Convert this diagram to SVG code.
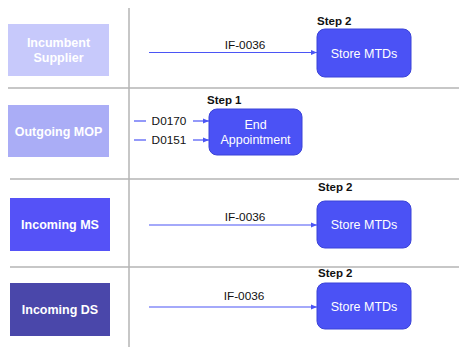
<svg xmlns="http://www.w3.org/2000/svg" width="459" height="347" viewBox="0 0 459 347">
<defs>
<marker id="ah" viewBox="0 0 10 10" refX="10" refY="5" markerWidth="6" markerHeight="6" orient="auto" markerUnits="userSpaceOnUse">
<path d="M0,1 L10,5 L0,9 z" fill="#4b55f5"/>
</marker>
<style>
.lane{fill:none;stroke:#b4b4b4;stroke-width:1.5}
.actor{stroke:none}
.atxt{font-family:"Liberation Sans",Arial,sans-serif;font-weight:bold;font-size:12.5px;fill:#ffffff;text-anchor:middle}
.proc{fill:#4b52f5;stroke:#3a42d8;stroke-width:1}
.ptxt{font-family:"Liberation Sans",Arial,sans-serif;font-size:12.5px;fill:#ffffff;text-anchor:middle}
.step{font-family:"Liberation Sans",Arial,sans-serif;font-weight:bold;font-size:11.5px;fill:#111111}
.lbl{font-family:"Liberation Sans",Arial,sans-serif;font-size:11.8px;fill:#111111;text-anchor:middle}
.edge{fill:none;stroke:#4b55f5;stroke-width:1.2}
</style>
</defs>
<rect width="459" height="347" fill="#ffffff"/>
<g id="lanes">
<line class="lane" x1="129" y1="8" x2="129" y2="347"/>
<line class="lane" x1="8" y1="88" x2="459" y2="88"/>
<line class="lane" x1="10" y1="179" x2="459" y2="179"/>
<line class="lane" x1="10" y1="267" x2="459" y2="267"/>
</g>
<g id="incumbent-supplier">
<rect class="actor" x="8" y="24" width="101" height="52" fill="#c7c9fb"/>
<text class="atxt" x="58.5" y="47">Incumbent</text>
<text class="atxt" x="58.5" y="62">Supplier</text>
</g>
<g id="outgoing-mop">
<rect class="actor" x="8" y="105" width="101" height="52" fill="#aaadf6"/>
<text class="atxt" x="58.5" y="136">Outgoing MOP</text>
</g>
<g id="incoming-ms">
<rect class="actor" x="10" y="198" width="100" height="53" fill="#5552f7"/>
<text class="atxt" x="60" y="229">Incoming MS</text>
</g>
<g id="incoming-ds">
<rect class="actor" x="10" y="283" width="100" height="53" fill="#4a47aa"/>
<text class="atxt" x="60" y="314">Incoming DS</text>
</g>
<g id="store-mtds-1">
<text class="step" x="317" y="25">Step 2</text>
<rect class="proc" x="317" y="29" width="94" height="48" rx="8"/>
<text class="ptxt" x="364" y="57.5">Store MTDs</text>
</g>
<g id="end-appointment">
<text class="step" x="207" y="104">Step 1</text>
<rect class="proc" x="209" y="109" width="93" height="46" rx="8"/>
<text class="ptxt" x="255.5" y="129">End</text>
<text class="ptxt" x="255.5" y="143.5">Appointment</text>
</g>
<g id="store-mtds-2">
<text class="step" x="318" y="191">Step 2</text>
<rect class="proc" x="317" y="201" width="94" height="47" rx="8"/>
<text class="ptxt" x="364" y="229">Store MTDs</text>
</g>
<g id="store-mtds-3">
<text class="step" x="318" y="277">Step 2</text>
<rect class="proc" x="317" y="283" width="94" height="46" rx="8"/>
<text class="ptxt" x="364" y="311">Store MTDs</text>
</g>
<g id="connectors">
<line class="edge" x1="149" y1="52.5" x2="317" y2="52.5" marker-end="url(#ah)"/>
<text class="lbl" x="245" y="49">IF-0036</text>
<line class="edge" x1="149" y1="225" x2="317" y2="225" marker-end="url(#ah)"/>
<text class="lbl" x="245" y="221">IF-0036</text>
<line class="edge" x1="149" y1="307" x2="317" y2="307" marker-end="url(#ah)"/>
<text class="lbl" x="244" y="300">IF-0036</text>
<line class="edge" x1="134" y1="121" x2="146" y2="121"/>
<text class="lbl" x="169" y="125">D0170</text>
<line class="edge" x1="193" y1="121" x2="209" y2="121" marker-end="url(#ah)"/>
<line class="edge" x1="134" y1="140" x2="146" y2="140"/>
<text class="lbl" x="169" y="144">D0151</text>
<line class="edge" x1="193" y1="140" x2="209" y2="140" marker-end="url(#ah)"/>
</g>
</svg>
